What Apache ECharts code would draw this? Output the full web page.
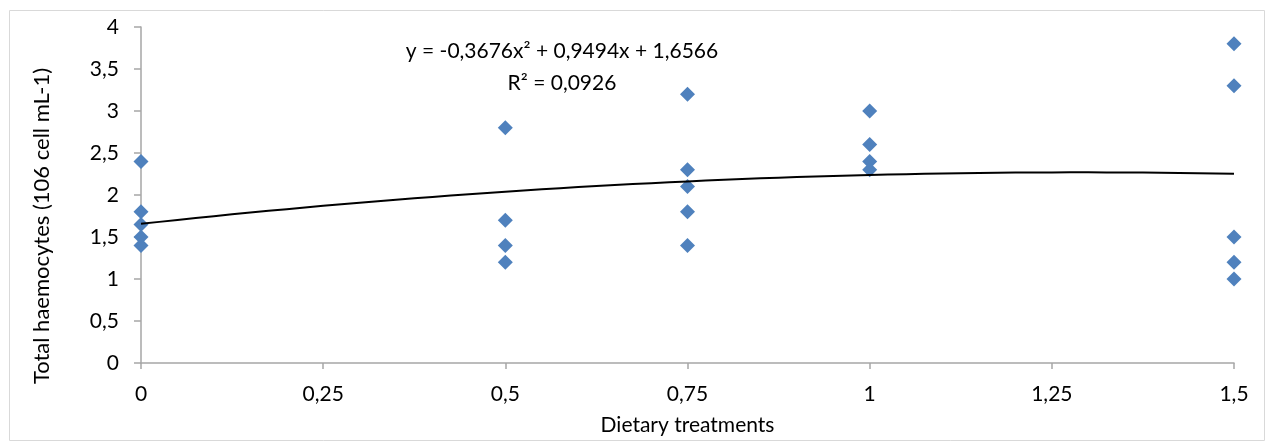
<!DOCTYPE html>
<html><head><meta charset="utf-8">
<script src="https://cdn.jsdelivr.net/npm/echarts@6/dist/echarts.min.js"></script>
<style>html,body{margin:0;padding:0;background:#fff}#c{width:1268px;height:443px}</style>
</head><body><div id="c"></div>
<script>
const treatments = [0, 0.5, 0.75, 1, 1.5];
const valuesAt0 = [2.4, 1.8, 1.65, 1.5, 1.4];
const valuesAt050 = [2.8, 1.7, 1.4, 1.2];
const valuesAt075 = [3.2, 2.3, 2.1, 1.8, 1.4];
const valuesAt100 = [3.0, 2.6, 2.4, 2.3];
const valuesAt150 = [3.8, 3.3, 1.5, 1.2, 1.0];
const trendCoefficients = [-0.3676, 0.9494, 1.6566]; // a, b, c from the chart's equation
const equationText = 'y = -0,3676x² + 0,9494x + 1,6566';
const r2Text = 'R² = 0,0926';
const xTicks = [0, 0.25, 0.5, 0.75, 1, 1.25, 1.5];

const groups = [valuesAt0, valuesAt050, valuesAt075, valuesAt100, valuesAt150];
const points = [];
groups.forEach((g, i) => g.forEach(v => points.push([treatments[i], v])));
const trend = [];
for (let i = 0; i <= 60; i++) {
  const x = 1.5 * i / 60;
  trend.push([x, trendCoefficients[0] * x * x + trendCoefficients[1] * x + trendCoefficients[2]]);
}
const fmt = v => String(v).replace('.', ',');
const font = "Lato, 'Open Sans', sans-serif";
const fs = 21;
const chart = echarts.init(document.getElementById('c'), null, {renderer: 'canvas'});
chart.setOption({
  animation: false,
  textStyle: {fontFamily: font},
  grid: {left: 141, right: 34, top: 27, bottom: 80},
  graphic: [
    {type: 'rect', shape: {x: 9.5, y: 10.5, width: 1255, height: 430}, style: {fill: 'none', stroke: '#d9d9d9', lineWidth: 1}, z: -1},
    {type: 'text', x: 562, y: 51, style: {text: equationText, textAlign: 'center', textVerticalAlign: 'middle', font: fs + 'px ' + font, fill: '#000'}},
    {type: 'text', x: 562, y: 83, style: {text: r2Text, textAlign: 'center', textVerticalAlign: 'middle', font: fs + 'px ' + font, fill: '#000'}}
  ],
  xAxis: {
    type: 'value', min: 0, max: 1.5, interval: 0.25,
    name: 'Dietary treatments', nameLocation: 'middle', nameGap: 52,
    nameTextStyle: {fontSize: fs, color: '#000', fontFamily: font},
    axisLine: {show: true, onZero: false, lineStyle: {color: '#a6a6a6', width: 1.5}},
    axisTick: {show: true, length: 6, lineStyle: {color: '#a6a6a6', width: 1.5}},
    axisLabel: {fontSize: fs, color: '#000', margin: 21, formatter: fmt},
    splitLine: {show: false}
  },
  yAxis: {
    type: 'value', min: 0, max: 4, interval: 0.5,
    name: 'Total haemocytes (106 cell mL-1)', nameLocation: 'middle', nameGap: 88, nameRotate: 90,
    nameTextStyle: {fontSize: 22, color: '#000', fontFamily: font, padding: [0, 62, 0, 0]},
    axisLine: {show: true, lineStyle: {color: '#a6a6a6', width: 1.5}},
    axisTick: {show: true, length: 7, lineStyle: {color: '#a6a6a6', width: 1.5}},
    axisLabel: {fontSize: fs, color: '#000', margin: 22, formatter: fmt},
    splitLine: {show: false}
  },
  series: [
    {type: 'line', data: trend, showSymbol: false, symbol: 'none', lineStyle: {color: '#000', width: 2}, z: 3},
    {type: 'scatter', data: points, symbol: 'diamond', symbolSize: 15, itemStyle: {color: '#4f81bd', opacity: 1}, z: 2}
  ]
});
</script></body></html>
